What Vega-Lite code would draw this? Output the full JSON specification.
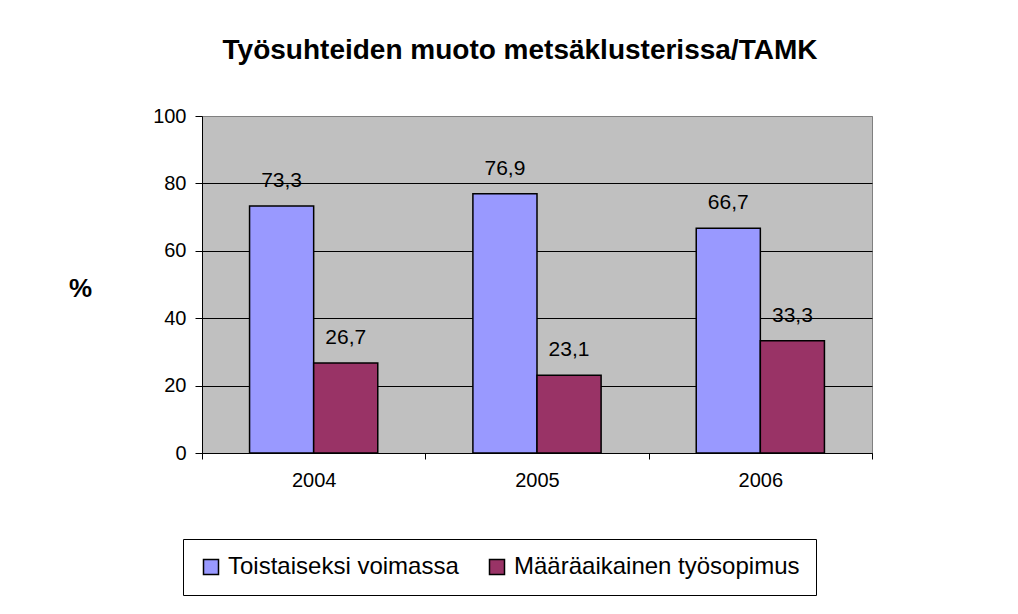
{
  "$schema": "https://vega.github.io/schema/vega-lite/v6.json",
  "width": 670,
  "height": 337,
  "autosize": {"type": "none"},
  "padding": {"left": 202, "top": 116, "right": 146, "bottom": 161},
  "background": "white",
  "title": {
    "text": "Työsuhteiden muoto metsäklusterissa/TAMK",
    "font": "Liberation Sans",
    "fontSize": 28,
    "fontWeight": "bold",
    "color": "black",
    "anchor": "middle",
    "frame": "group",
    "dx": -17,
    "baseline": "alphabetic",
    "offset": 19
  },
  "data": {
    "values": [
      {"vuosi": "2004", "sarja": "Toistaiseksi voimassa", "arvo": 73.3},
      {"vuosi": "2004", "sarja": "Määräaikainen työsopimus", "arvo": 26.7},
      {"vuosi": "2005", "sarja": "Toistaiseksi voimassa", "arvo": 76.9},
      {"vuosi": "2005", "sarja": "Määräaikainen työsopimus", "arvo": 23.1},
      {"vuosi": "2006", "sarja": "Toistaiseksi voimassa", "arvo": 66.7},
      {"vuosi": "2006", "sarja": "Määräaikainen työsopimus", "arvo": 33.3}
    ]
  },
  "encoding": {
    "x": {
      "field": "vuosi",
      "type": "nominal",
      "scale": {"paddingInner": 0, "paddingOuter": 0},
      "axis": {
        "title": null,
        "labelAngle": 0,
        "labelFont": "Liberation Sans",
        "labelFontSize": 20,
        "labelColor": "black",
        "labelPadding": 11,
        "tickBand": "extent",
        "tickSize": 6,
        "tickColor": "black",
        "domainColor": "black",
        "grid": false
      }
    },
    "xOffset": {
      "field": "sarja",
      "type": "nominal",
      "sort": ["Toistaiseksi voimassa", "Määräaikainen työsopimus"],
      "scale": {"paddingInner": 0, "paddingOuter": 0.742}
    },
    "y": {
      "field": "arvo",
      "type": "quantitative",
      "scale": {"domain": [0, 100]},
      "axis": {
        "values": [0, 20, 40, 60, 80, 100],
        "title": "%",
        "titleAngle": 0,
        "titleX": -122,
        "titleY": 172,
        "titleAlign": "center",
        "titleBaseline": "middle",
        "titleFont": "Liberation Sans",
        "titleFontSize": 26,
        "titleFontWeight": "bold",
        "titleColor": "black",
        "labelFont": "Liberation Sans",
        "labelFontSize": 20,
        "labelColor": "black",
        "labelPadding": 9,
        "tickSize": 7,
        "tickColor": "black",
        "domainColor": "black",
        "grid": true,
        "gridColor": {"condition": {"test": "datum.value === 100", "value": "#808080"}, "value": "black"},
        "gridOpacity": 1
      }
    }
  },
  "layer": [
    {
      "mark": {"type": "bar", "stroke": "black", "strokeWidth": 1.5},
      "encoding": {
        "color": {
          "field": "sarja",
          "type": "nominal",
          "sort": ["Toistaiseksi voimassa", "Määräaikainen työsopimus"],
          "scale": {"domain": ["Toistaiseksi voimassa", "Määräaikainen työsopimus"], "range": ["#9999FF", "#993366"]},
          "legend": {
            "orient": "none",
            "legendX": -19,
            "legendY": 423,
            "direction": "horizontal",
            "title": null,
            "strokeColor": "black",
            "padding": 16,
            "symbolType": "square",
            "symbolSize": 225,
            "symbolStrokeColor": "black",
            "symbolStrokeWidth": 1.5,
            "symbolOpacity": 1,
            "labelFont": "Liberation Sans",
            "labelFontSize": 24,
            "labelColor": "black",
            "labelLimit": 400,
            "labelOffset": 5,
            "columnPadding": 26
          }
        }
      }
    },
    {
      "mark": {"type": "text", "baseline": "alphabetic", "dy": -19, "font": "Liberation Sans", "fontSize": 21, "color": "black"},
      "encoding": {"text": {"field": "arvo", "type": "quantitative", "format": ".1f"}}
    }
  ],
  "config": {
    "locale": {"number": {"decimal": ",", "thousands": " ", "grouping": [3], "currency": ["", " €"]}},
    "view": {"fill": "#C0C0C0", "stroke": "#808080", "strokeWidth": 1}
  }
}
